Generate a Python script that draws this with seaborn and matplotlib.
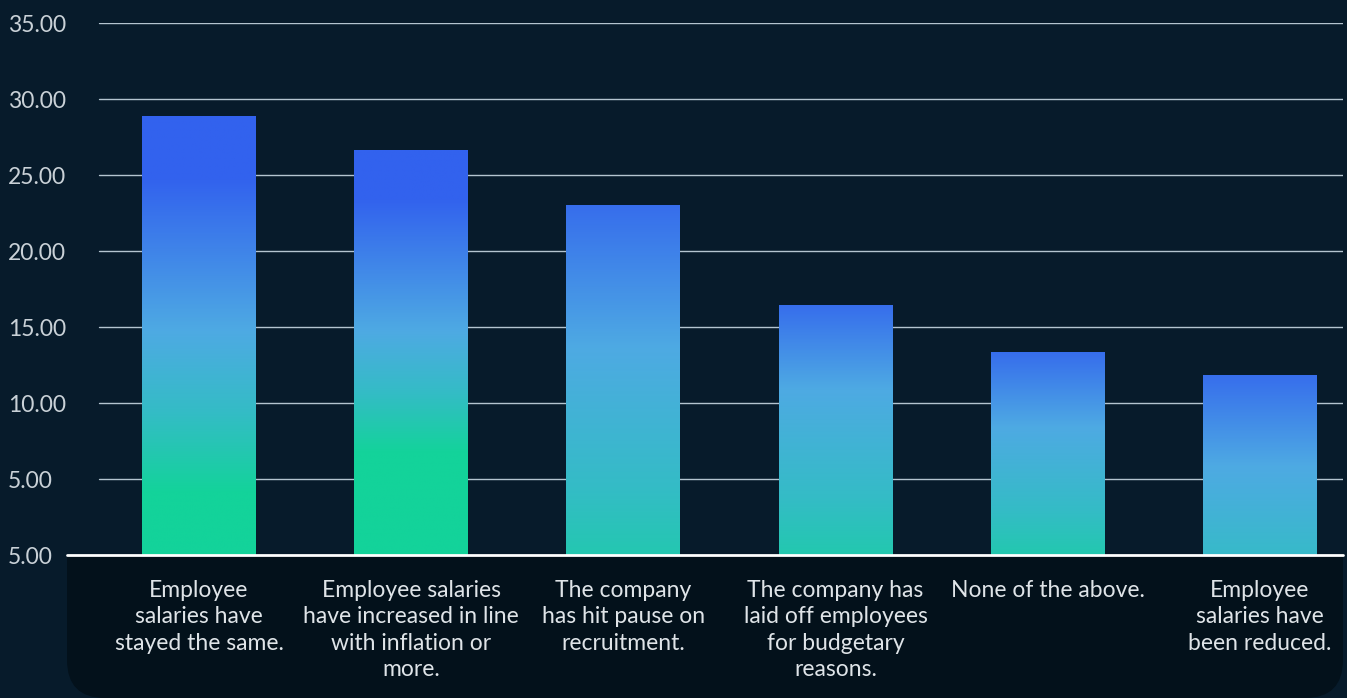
import numpy as np
import pandas as pd
import matplotlib
matplotlib.use("Agg")
import matplotlib.pyplot as plt
import seaborn as sns
from matplotlib.colors import LinearSegmentedColormap
from matplotlib.patches import FancyBboxPatch
from matplotlib.transforms import IdentityTransform

# ─── Data ──────────────────────────────────────────────────────────
categories = [
    "Employee\nsalaries have\nstayed the same.",
    "Employee salaries\nhave increased in line\nwith inflation or\nmore.",
    "The company\nhas hit pause on\nrecruitment.",
    "The company has\nlaid off employees\nfor budgetary\nreasons.",
    "None of the above.",
    "Employee\nsalaries have\nbeen reduced.",
]
values = [28.85, 26.65, 23.05, 16.45, 13.35, 11.85]
ytick_values = [0, 5, 10, 15, 20, 25, 30, 35]
ytick_labels = ["5.00", "5.00", "10.00", "15.00", "20.00", "25.00", "30.00", "35.00"]

# ─── Style ──────────────────────────────────────────────────────────
BG = "#071b2b"
PANEL = "#03111b"
XTEXT = "#dfe4e8"
YTEXT = "#c9d1d7"
GRID = "#b4c4d0"
grad = LinearSegmentedColormap.from_list(
    "bars", [(0.0, "#3262ee"), (0.5, "#4eaae3"), (0.75, "#34bcc6"), (1.0, "#13d39a")])
# gradient knots per bar: (fraction of bar height, colormap position)
GRAD_KNOTS = [
    [(0, 1), (0.14, 1), (0.51, 0.5), (0.86, 0), (1, 0)],
    [(0, 1), (0.25, 1), (0.55, 0.5), (0.88, 0), (1, 0)],
    [(0, 0.87), (0.59, 0.5), (1, 0.08)],
    [(0, 0.88), (0.66, 0.5), (1, 0.08)],
    [(0, 0.88), (0.63, 0.5), (1, 0.08)],
    [(0, 0.72), (0.49, 0.5), (1, 0.08)],
]

sns.set_theme(style="dark")
plt.rcParams["font.family"] = ["Lato", "DejaVu Sans"]

W, H = 1347, 698
fig = plt.figure(figsize=(W / 100, H / 100), dpi=100, facecolor=BG)
ax_l, ax_r, ax_t, ax_b = 67, 1343, 23, 555
ax = fig.add_axes([ax_l / W, 1 - ax_b / H, (ax_r - ax_l) / W, (ax_b - ax_t) / H])
ax.set_facecolor(BG)

# bottom label panel, top part hidden behind the axes
panel = FancyBboxPatch((ax_l, 0), ax_r - ax_l, H - ax_b + 60,
                       boxstyle="round,pad=0,rounding_size=38",
                       transform=IdentityTransform(), facecolor=PANEL,
                       edgecolor="none", zorder=-1)
fig.patches.append(panel)

df = pd.DataFrame({"category": categories, "value": values})
sns.barplot(data=df, x="category", y="value", ax=ax, width=0.537,
            color="#3262ee", saturation=1, zorder=3)

# gradient fill clipped to each bar
for bar, knots in zip(ax.patches, GRAD_KNOTS):
    x0 = bar.get_x()
    w = bar.get_width()
    h = bar.get_height()
    f = np.linspace(0, 1, 500)
    kf, kp = zip(*knots)
    p = np.interp(f, kf, kp)
    img = grad(p)[:, None, :]
    im = ax.imshow(img, extent=[x0, x0 + w, 0, h], origin="lower",
                   aspect="auto", zorder=3, interpolation="bilinear")
    im.set_clip_path(bar)
    bar.set_facecolor("none")
    bar.set_edgecolor("none")

ax.set_xlim(-(199 - ax_l) / 212.2, (ax_r - 199) / 212.2)
ax.set_ylim(0, 35)

# gridlines start a bit right of the axes edge
for v in ytick_values[1:]:
    ax.axhline(v, xmin=(99 - ax_l) / (ax_r - ax_l), xmax=1, color=GRID, lw=1, zorder=1)
ax.axhline(0, color="white", lw=2, zorder=4, clip_on=False)

ax.set_yticks(ytick_values)
ax.set_yticklabels(ytick_labels)
ax.tick_params(axis="y", length=0, pad=(ax_l - 8) * 0.72, labelsize=16.5, labelcolor=YTEXT)
for lab in ax.get_yticklabels():
    lab.set_horizontalalignment("left")

ax.tick_params(axis="x", length=0, pad=18, labelsize=16.5, labelcolor=XTEXT)
for lab in ax.get_xticklabels():
    lab.set_linespacing(1.32)

ax.set_xlabel("")
ax.set_ylabel("")
for s in ax.spines.values():
    s.set_visible(False)
ax.grid(False)

fig.savefig("out.png", dpi=100, facecolor=BG)
